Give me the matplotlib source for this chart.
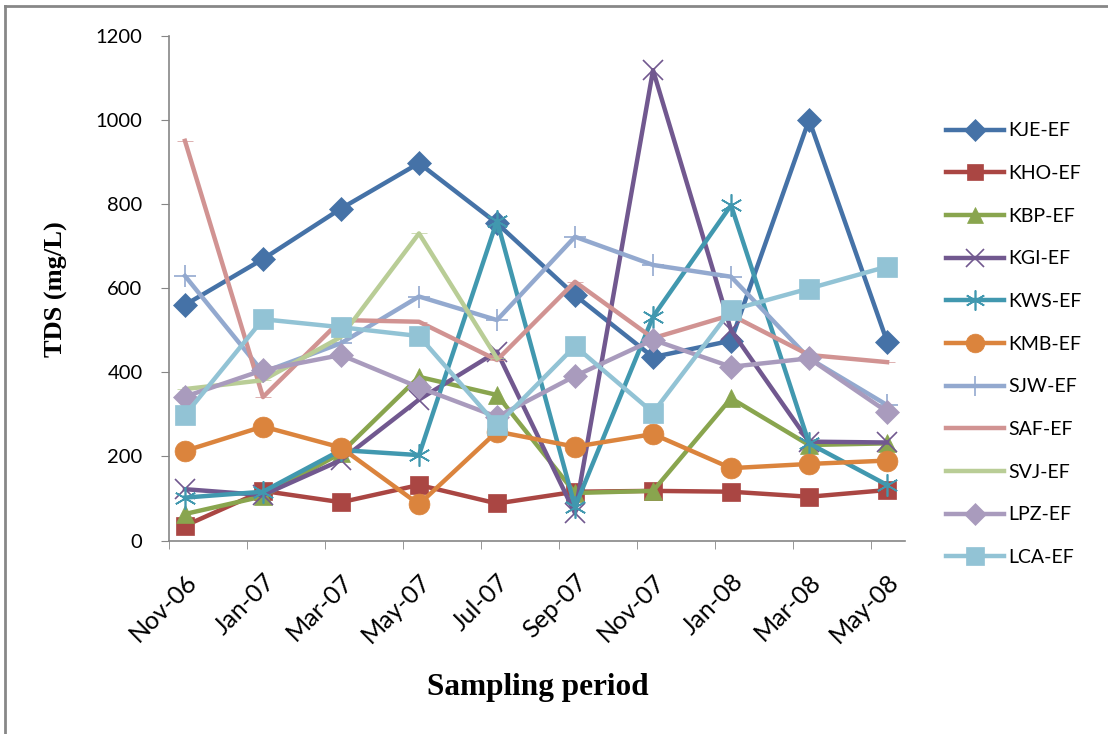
import matplotlib as mpl
mpl.use('Agg')
import matplotlib.pyplot as plt
from matplotlib.lines import Line2D
import numpy as np

nan = np.nan

months = ['Nov-06', 'Jan-07', 'Mar-07', 'May-07', 'Jul-07',
          'Sep-07', 'Nov-07', 'Jan-08', 'Mar-08', 'May-08']

kje = [560, 669, 789, 897, 754, 583, 436, 475, 1000, 473]
kho = [35, 118, 91, 132, 88, 116, 118, 116, 104, 120]
kbp = [63, 105, 208, 389, 346, 113, 118, 338, 227, 231]
kgi = [122, 108, 191, 335, 449, 65, 1118, 500, 235, 233]
kws = [102, 116, 215, 203, 760, 80, 532, 797, 231, 132]
kmb = [213, 271, 221, 86, 259, 223, 253, 172, 182, 190]
sjw = [629, 400, 469, 580, 524, 722, 655, 627, 433, 322]
saf = [950, 341, 524, 520, 429, 615, 481, 536, 441, 424]
svj = [360, 381, 484, 730, 433, nan, nan, nan, nan, nan]
lpz = [342, 405, 441, 364, 294, 391, 477, 413, 433, 306]
lca = [298, 526, 507, 486, 274, 462, 304, 548, 599, 651]

series = [
    ('KJE-EF', kje, '#4572A7', 'D', 12),
    ('KHO-EF', kho, '#AA4643', 's', 13),
    ('KBP-EF', kbp, '#89A54E', '^', 13),
    ('KGI-EF', kgi, '#71588F', 'x', 14),
    ('KWS-EF', kws, '#4198AF', (6, 2, 0), 16),
    ('KMB-EF', kmb, '#DB843D', 'o', 15),
    ('SJW-EF', sjw, '#93A9CF', '+', 16),
    ('SAF-EF', saf, '#D19392', '_', 12),
    ('SVJ-EF', svj, '#B9CD96', '_', 12),
    ('LPZ-EF', lpz, '#A99BBD', 'D', 12),
    ('LCA-EF', lca, '#92C3D5', 's', 14),
]

fig = plt.figure(figsize=(11.08, 7.34), dpi=100)
ax = fig.add_axes([0.1525, 0.2636, 0.6643, 0.6878])

x = np.arange(len(months))
handles = []
for name, vals, col, mk, ms in series:
    thin = mk in ('x', '+', (6, 2, 0))
    ax.plot(x, vals, color=col, lw=3.2, marker=mk, markersize=ms,
            markeredgewidth=1.2 if thin else 0.5, markeredgecolor=col,
            markerfacecolor=col)
    handles.append(Line2D([], [], color=col, lw=3.2, marker=mk,
                          markersize=ms * 0.9, markeredgecolor=col,
                          markeredgewidth=1.2 if thin else 0.5))

ax.set_ylim(0, 1200)
ax.set_yticks(np.arange(0, 1201, 200))
ax.set_xlim(-0.205, 9.23)
ax.set_xticks(x)
ax.set_xticklabels(months, rotation=45, ha='right', rotation_mode='anchor',
                   fontsize=18, family='Lato')
ax.set_xticks(np.arange(10) - 0.205, minor=True)
ax.tick_params(axis='x', which='major', length=0, pad=21)
ax.tick_params(axis='x', which='minor', length=6, color='#868686')
ax.tick_params(axis='y', length=6, pad=13, color='#868686', labelsize=14.5)
for lab in ax.get_yticklabels():
    lab.set_family('Lato')

for s in ['top', 'right']:
    ax.spines[s].set_visible(False)
for s in ['left', 'bottom']:
    ax.spines[s].set_color('#868686')
    ax.spines[s].set_linewidth(1.2)

fig.text(0.051, 0.606, 'TDS (mg/L)', rotation=90, ha='center', va='center',
         family='Liberation Serif', weight='bold', fontsize=19)
fig.text(0.485, 0.064, 'Sampling period', ha='center', va='center',
         family='Liberation Serif', weight='bold', fontsize=22.5)

fig.legend(handles, [s[0] for s in series], loc='upper left',
           bbox_to_anchor=(0.838, 0.857), frameon=False,
           prop={'family': 'Lato', 'size': 14},
           handlelength=3.0, handletextpad=0.2, labelspacing=1.32)

# chart frame (top and left edges visible)
fig.add_artist(Line2D([5 / 1108, 1], [1 - 6 / 734, 1 - 6 / 734],
                      color='#878787', lw=2, transform=fig.transFigure))
fig.add_artist(Line2D([5 / 1108, 5 / 1108], [0, 1 - 6 / 734],
                      color='#878787', lw=2, transform=fig.transFigure))

fig.savefig('out.png')
